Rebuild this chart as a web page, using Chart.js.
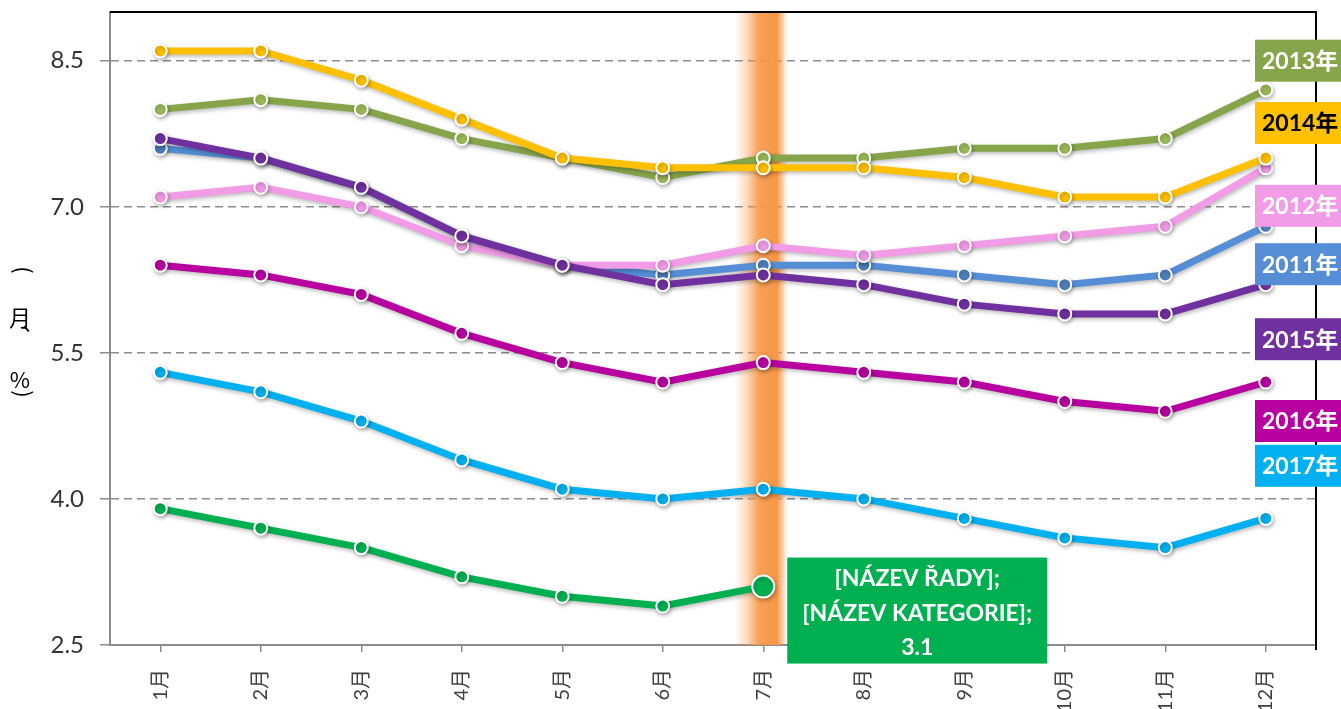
<!DOCTYPE html>
<html>
<head>
<meta charset="utf-8">
<script src="https://cdn.jsdelivr.net/npm/chart.js"></script>
<style>
  html, body { margin: 0; padding: 0; background: #fff; }
  #wrap { width: 1341px; height: 709px; position: relative; }
</style>
</head>
<body>
<div id="wrap"><canvas id="myChart"></canvas></div>
<script>
// data
const months = ['1月', '2月', '3月', '4月', '5月', '6月', '7月', '8月', '9月', '10月', '11月', '12月'];
const yTicks = [2.5, 4.0, 5.5, 7.0, 8.5];

const y2011 = [7.6, 7.5, 7.2, 6.7, 6.4, 6.3, 6.4, 6.4, 6.3, 6.2, 6.3, 6.8];
const y2012 = [7.1, 7.2, 7.0, 6.6, 6.4, 6.4, 6.6, 6.5, 6.6, 6.7, 6.8, 7.4];
const y2013 = [8.0, 8.1, 8.0, 7.7, 7.5, 7.3, 7.5, 7.5, 7.6, 7.6, 7.7, 8.2];
const y2014 = [8.6, 8.6, 8.3, 7.9, 7.5, 7.4, 7.4, 7.4, 7.3, 7.1, 7.1, 7.5];
const y2015 = [7.7, 7.5, 7.2, 6.7, 6.4, 6.2, 6.3, 6.2, 6.0, 5.9, 5.9, 6.2];
const y2016 = [6.4, 6.3, 6.1, 5.7, 5.4, 5.2, 5.4, 5.3, 5.2, 5.0, 4.9, 5.2];
const y2017 = [5.3, 5.1, 4.8, 4.4, 4.1, 4.0, 4.1, 4.0, 3.8, 3.6, 3.5, 3.8];
const y2018 = [3.9, 3.7, 3.5, 3.2, 3.0, 2.9, 3.1, null, null, null, null, null];

const seriesNames = ['2011年', '2012年', '2013年', '2014年', '2015年', '2016年', '2017年', '2018年'];
const seriesData = [y2011, y2012, y2013, y2014, y2015, y2016, y2017, y2018];
// where the end label of each series sits (in axis units)
const labelAt = [6.41, 7.01, 8.5, 7.86, 5.64, 4.8, 4.34, null];

const lineColors = ['#558ed5', '#f29be6', '#86a44a', '#ffc000', '#7030a0', '#b800a0', '#00b0f0', '#00b050'];
const dotColors = ['#4f81bd', '#f29be6', '#9bbb59', '#ffc000', '#7030a0', '#b800a0', '#00b0f0', '#00b050'];
const labelText = ['#fff', '#fff', '#fff', '#000', '#fff', '#fff', '#fff', '#fff'];

const highlightMonth = 6; // 7月
const FONT = "Lato, 'Noto Sans CJK SC', sans-serif";

const ctx = document.getElementById('myChart');

// orange band behind the lines at 7月
const bandPlugin = {
  id: 'band',
  beforeDatasetsDraw(chart) {
    const c = chart.ctx, a = chart.chartArea;
    const x = chart.scales.x.getPixelForValue(highlightMonth);
    const g = c.createLinearGradient(x - 28, 0, x + 24, 0);
    g.addColorStop(0, 'rgba(247,150,70,0)');
    g.addColorStop(0.22, 'rgba(247,150,70,0.35)');
    g.addColorStop(0.45, 'rgba(247,150,70,0.9)');
    g.addColorStop(0.8, 'rgba(247,150,70,1)');
    g.addColorStop(1, 'rgba(247,150,70,0)');
    c.save();
    c.fillStyle = g;
    c.fillRect(x - 28, a.top, 52, a.bottom - a.top);
    c.restore();
  }
};

// soft shadow under lines and markers
const shadowPlugin = {
  id: 'shadow',
  beforeDatasetDraw(chart) {
    const c = chart.ctx;
    c.save();
    c.shadowColor = 'rgba(0,0,0,0.28)';
    c.shadowBlur = 4;
    c.shadowOffsetX = 1;
    c.shadowOffsetY = 2;
  },
  afterDatasetDraw(chart) {
    chart.ctx.restore();
  }
};

const extrasPlugin = {
  id: 'extras',
  afterDraw(chart) {
    const c = chart.ctx, a = chart.chartArea;
    const xs = chart.scales.x, ys = chart.scales.y;
    c.save();

    // black frame on top and right
    c.strokeStyle = '#000';
    c.lineWidth = 2;
    c.beginPath();
    c.moveTo(a.left, a.top);
    c.lineTo(a.right, a.top);
    c.lineTo(a.right, a.bottom + 5);
    c.stroke();

    // series labels at the right edge
    c.font = 'bold 23px ' + FONT;
    c.textBaseline = 'middle';
    c.textAlign = 'left';
    labelAt.forEach((v, i) => {
      if (v == null) return;
      const y = ys.getPixelForValue(v);
      const x0 = a.right - 61;
      c.fillStyle = lineColors[i];
      c.fillRect(x0, y - 21, 100, 42);
      c.fillStyle = labelText[i];
      c.fillText(seriesNames[i], x0 + 7, y + 1);
    });

    // data label of the last 2018 point
    const last = y2018.length - 1 - [...y2018].reverse().findIndex(v => v != null);
    const px = xs.getPixelForValue(last), py = ys.getPixelForValue(y2018[last]);
    c.fillStyle = '#00b050';
    c.fillRect(px + 24, py - 29, 260, 106);
    c.fillStyle = '#fff';
    c.textAlign = 'center';
    c.font = 'bold 23px ' + FONT;
    c.fillText('[NÁZEV ŘADY];', px + 154, py - 8);
    c.fillText('[NÁZEV KATEGORIE];', px + 154, py + 27);
    c.fillText(y2018[last].toFixed(1), px + 154, py + 61);

    // vertical axis title, characters stacked
    c.fillStyle = '#000';
    c.font = "22px 'Noto Sans CJK SC', sans-serif";
    c.save();
    c.translate(21, 270);
    c.rotate(-Math.PI / 2);
    c.fillText(')', 0, 0);
    c.restore();
    c.fillText('月', 20, 318);
    c.fillText('、', 33, 322);
    c.fillText('%', 20, 380);
    c.save();
    c.translate(21, 394);
    c.rotate(-Math.PI / 2);
    c.fillText('(', 0, 0);
    c.restore();
    c.restore();
  }
};

new Chart(ctx, {
  type: 'line',
  data: {
    labels: months,
    datasets: seriesData.map((d, i) => ({
      label: seriesNames[i],
      data: d,
      order: seriesData.length - i,
      borderColor: lineColors[i],
      backgroundColor: dotColors[i],
      borderWidth: 7,
      pointBackgroundColor: dotColors[i],
      pointBorderColor: '#fff',
      pointBorderWidth: 2,
      pointRadius: (i === 7) ? d.map((v, k) => k === highlightMonth ? 11 : 6.5) : 6.5,
      pointHoverRadius: 7,
      tension: 0,
      spanGaps: false
    }))
  },
  options: {
    responsive: true,
    maintainAspectRatio: false,
    animation: false,
    layout: { padding: { left: 0, top: 12, right: 25, bottom: 0 } },
    plugins: {
      legend: { display: false },
      tooltip: { enabled: false }
    },
    scales: {
      x: {
        offset: true,
        grid: {
          offset: false,
          drawOnChartArea: false,
          tickLength: 7,
          color: '#8c8c8c',
          lineWidth: 1.5
        },
        border: { color: '#8c8c8c', width: 2 },
        ticks: {
          minRotation: 90,
          maxRotation: 90,
          padding: 17,
          color: '#404040',
          font: { size: 20, family: FONT }
        },
        afterFit: s => { s.height = 64; s.paddingLeft = 0; s.paddingRight = 0; }
      },
      y: {
        min: 2.5,
        max: 9,
        afterBuildTicks: s => { s.ticks = yTicks.map(v => ({ value: v })); },
        grid: {
          color: '#8c8c8c',
          lineWidth: 1.5,
          tickLength: 10,
          tickColor: '#8c8c8c',
          tickBorderDash: []
        },
        border: { color: '#8c8c8c', width: 2, dash: [8, 5] },
        ticks: {
          padding: 16,
          color: '#333',
          font: { size: 24, family: FONT, lineHeight: 1 },
          callback: v => Number(v).toFixed(1)
        },
        afterFit: s => { s.width = 110; s.paddingTop = 0; s.paddingBottom = 0; }
      }
    }
  },
  plugins: [bandPlugin, shadowPlugin, extrasPlugin]
});
</script>
</body>
</html>
